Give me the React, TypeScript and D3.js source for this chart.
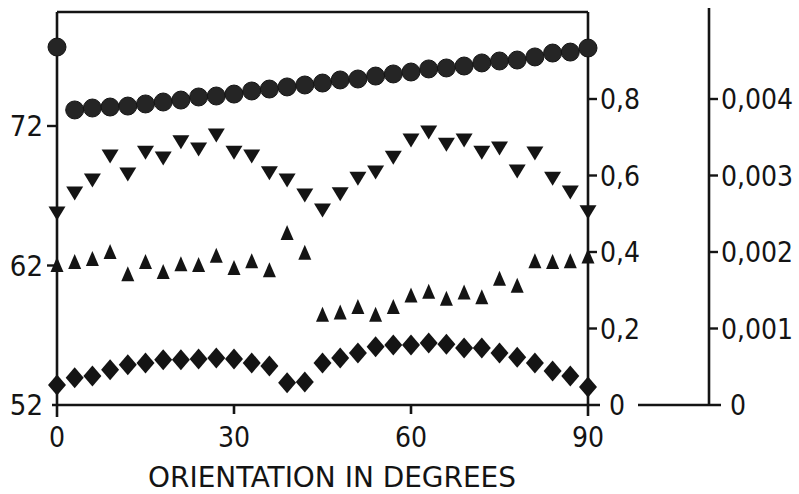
import React from 'react'
import * as d3 from 'd3'

// orientation of the stimulus, degrees
const orient = [0, 3, 6, 9, 12, 15, 18, 21, 24, 27, 30, 33, 36, 39, 42, 45,
  48, 51, 54, 57, 60, 63, 66, 69, 72, 75, 78, 81, 84, 87, 90]

// filled circles, read on the left axis (52..72)
const circleVals = [77.66, 73.15, 73.29, 73.36, 73.43, 73.58, 73.72, 73.86, 74.08, 74.15, 74.29,
  74.51, 74.65, 74.8, 74.94, 75.08, 75.3, 75.37, 75.58, 75.73, 75.87, 76.09, 76.16, 76.3,
  76.52, 76.66, 76.73, 76.95, 77.23, 77.3, 77.59]

// down triangles, read on the 0..0.8 axis
const downVals = [0.502, 0.554, 0.588, 0.651, 0.604, 0.661, 0.646, 0.688, 0.669, 0.706, 0.661,
  0.651, 0.607, 0.588, 0.549, 0.51, 0.552, 0.593, 0.609, 0.648, 0.693, 0.714, 0.682, 0.693,
  0.661, 0.672, 0.612, 0.659, 0.593, 0.557, 0.505]

// up triangles, read on the 0..0.004 axis
const upVals = [0.00183, 0.00187, 0.00191, 0.002, 0.00171, 0.00187, 0.00174, 0.00184, 0.00183,
  0.00195, 0.00179, 0.00188, 0.00176, 0.00225, 0.00199, 0.00118, 0.00121, 0.00128, 0.00118,
  0.00128, 0.00143, 0.00148, 0.00139, 0.00147, 0.00141, 0.00165, 0.00156, 0.00188, 0.00187,
  0.00188, 0.00194]

// diamonds, read on the 0..0.8 axis
const diamondVals = [0.052, 0.071, 0.076, 0.092, 0.105, 0.11, 0.118, 0.118, 0.12, 0.123, 0.12,
  0.11, 0.102, 0.058, 0.06, 0.11, 0.123, 0.136, 0.152, 0.157, 0.157, 0.162, 0.159, 0.149,
  0.149, 0.136, 0.125, 0.11, 0.089, 0.076, 0.047]

const xTicks = [0, 30, 60, 90]
const leftTicks = [52, 62, 72]
const midTicks = [0, 0.2, 0.4, 0.6, 0.8]
const rightTicks = [0, 0.001, 0.002, 0.003, 0.004]
const xTitle = 'ORIENTATION IN DEGREES'

const W = 799
const H = 494
const ink = '#141414'
const font = "'DejaVu Sans Condensed', 'DejaVu Sans', sans-serif"

const comma = (v: number, digits: number) => (v === 0 ? '0' : v.toFixed(digits).replace('.', ','))

export default function App() {
  const top = 12
  const x = d3.scaleLinear().domain([0, 90]).range([57, 588])
  const yLeft = d3.scaleLinear().domain([52, 72]).range([405, 126])
  const yMid = d3.scaleLinear().domain([0, 0.8]).range([405, 99])
  const yRight = d3.scaleLinear().domain([0, 0.004]).range([405, 99])
  const x0 = x(0), x1 = x(90), base = yLeft(52)
  const ax3 = 709

  const down = (cx: number, cy: number) =>
    `M${cx - 8.5},${cy - 6.5}L${cx + 8.5},${cy - 6.5}L${cx},${cy + 7.5}Z`
  const up = (cx: number, cy: number) =>
    `M${cx - 6.5},${cy + 7}L${cx + 6.5},${cy + 7}L${cx},${cy - 8}Z`
  const diamond = (cx: number, cy: number) =>
    `M${cx},${cy - 10.5}L${cx + 9},${cy}L${cx},${cy + 10.5}L${cx - 9},${cy}Z`

  return (
    <svg width={W} height={H} style={{position: 'absolute', left: 0, top: 0, background: '#fff'}}
      fontFamily={font} fill={ink}>
      {/* frame and axes */}
      <g stroke={ink} strokeWidth={2.6} fill="none">
        <line x1={x0} y1={top} x2={x1} y2={top} />
        <line x1={x0} y1={top} x2={x0} y2={base + 12} />
        <line x1={x1} y1={top} x2={x1} y2={base + 11} />
        <line x1={x0 - 5} y1={base} x2={x1 + 12} y2={base} />
        <line x1={ax3} y1={8} x2={ax3} y2={base} />
        <line x1={638} y1={base} x2={ax3 + 12} y2={base} />
      </g>

      {/* x axis */}
      {xTicks.map(t => (
        <g key={'x' + t}>
          {t > 0 && t < 90 && <line x1={x(t)} x2={x(t)} y1={base} y2={base + 9} stroke={ink} strokeWidth={2.6} />}
          <text x={x(t)} y={447} textAnchor="middle" fontSize={28}>{t}</text>
        </g>
      ))}
      <text x={332} y={487} textAnchor="middle" fontSize={29} textLength={368}
        lengthAdjust="spacingAndGlyphs">{xTitle}</text>

      {/* left axis */}
      {leftTicks.map(t => (
        <g key={'l' + t}>
          {t > 52 && <line x1={x0 - 10} x2={x0} y1={yLeft(t)} y2={yLeft(t)} stroke={ink} strokeWidth={2.4} />}
          <text x={43} y={yLeft(t) + 10} textAnchor="end" fontSize={29}>{t}</text>
        </g>
      ))}

      {/* 0..0.8 axis */}
      {midTicks.map(t => (
        <g key={'m' + t}>
          {t > 0 && <line x1={x1} x2={x1 + 9} y1={yMid(t)} y2={yMid(t)} stroke={ink} strokeWidth={2.4} />}
          <text x={t === 0 ? 609 : 600} y={yMid(t) + 10} fontSize={28}>{comma(t, 1)}</text>
        </g>
      ))}

      {/* 0..0.004 axis */}
      {rightTicks.map(t => (
        <g key={'r' + t}>
          {t > 0 && <line x1={ax3} x2={ax3 + 9} y1={yRight(t)} y2={yRight(t)} stroke={ink} strokeWidth={2.4} />}
          <text x={t === 0 ? 730 : 721} y={yRight(t) + 10} fontSize={28}>{comma(t, 3)}</text>
        </g>
      ))}

      {/* markers */}
      <g>
        {orient.map((o, i) => (
          <path key={'d' + o} d={diamond(x(o), yMid(diamondVals[i]))} />
        ))}
        {orient.map((o, i) => (
          <path key={'u' + o} d={up(x(o), yRight(upVals[i]))} />
        ))}
        {orient.map((o, i) => (
          <path key={'v' + o} d={down(x(o), yMid(downVals[i]))} />
        ))}
        {orient.map((o, i) => (
          <circle key={'c' + o} cx={x(o)} cy={yLeft(circleVals[i])} r={9} fill="#252525" stroke={ink} strokeWidth={1} />
        ))}
      </g>
    </svg>
  )
}
